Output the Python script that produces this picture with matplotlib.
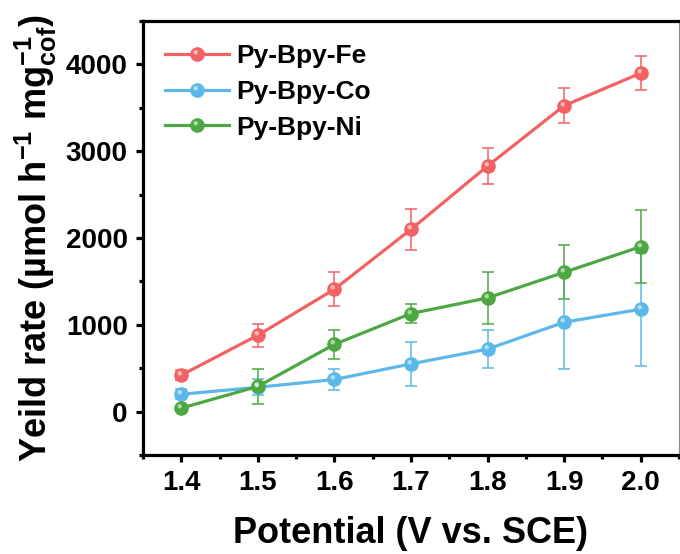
import matplotlib
matplotlib.use("Agg")
import matplotlib.pyplot as plt
from matplotlib.lines import Line2D
from matplotlib.markers import MarkerStyle
from matplotlib.transforms import Affine2D
from matplotlib.ticker import MultipleLocator

plt.rcParams['font.family'] = ['Liberation Sans', 'DejaVu Sans']
plt.rcParams['font.weight'] = 'bold'
plt.rcParams['mathtext.fontset'] = 'custom'
plt.rcParams['mathtext.rm'] = 'Liberation Sans:bold'
plt.rcParams['mathtext.it'] = 'Liberation Sans:bold'
plt.rcParams['mathtext.bf'] = 'Liberation Sans:bold'
plt.rcParams['mathtext.default'] = 'rm'

potential = [1.4, 1.5, 1.6, 1.7, 1.8, 1.9, 2.0]
fe = [420, 880, 1410, 2100, 2830, 3525, 3900]
fe_err = [60, 130, 195, 240, 210, 205, 200]
co = [200, 280, 370, 550, 720, 1030, 1180]
co_err = [60, 90, 120, 250, 220, 540, 650]
ni = [40, 290, 775, 1130, 1310, 1605, 1900]
ni_err = [30, 205, 170, 110, 300, 310, 420]
names = ['Py-Bpy-Fe', 'Py-Bpy-Co', 'Py-Bpy-Ni']
colors = ['#F26263', '#5CB8E8', '#4DA843']

fig = plt.figure(figsize=(6.8, 5.54), dpi=100)
ax = fig.add_axes([0.2103, 0.1787, 0.7882, 0.7833])

ms = 9.5
hl_marker = MarkerStyle('o', transform=Affine2D().translate(-0.4, 0.5))
hl_kw = dict(ls='none', marker=hl_marker, ms=3.2, mfc='white', mec='none', alpha=0.55)
handles = []
for y, e, c, n in zip([fe, co, ni], [fe_err, co_err, ni_err], colors, names):
    ax.errorbar(potential, y, yerr=e, color=c, lw=2.3, marker='o', ms=ms,
                mfc=c, mec=c, elinewidth=1.1, capsize=4.5, capthick=1.1, zorder=2)
    ax.plot(potential, y, zorder=3, **hl_kw)
    h1 = Line2D([], [], color=c, lw=2.3, marker='o', ms=ms, mfc=c, mec=c)
    h2 = Line2D([], [], **hl_kw)
    handles.append((h1, h2))

ax.set_xlim(1.35, 2.05)
ax.set_ylim(-500, 4500)
ax.set_xticks(potential)
ax.set_xticklabels([f'{p:.1f}' for p in potential])
ax.xaxis.set_minor_locator(MultipleLocator(0.05))
ax.yaxis.set_major_locator(MultipleLocator(1000))
ax.yaxis.set_minor_locator(MultipleLocator(500))

for s in ['left', 'top', 'bottom']:
    ax.spines[s].set_linewidth(2.3)
ax.spines['right'].set_linewidth(0.8)
ax.spines['right'].set_color('#888888')
ax.tick_params(axis='both', which='major', direction='out', length=5, width=2.3,
               labelsize=20, pad=6, top=False, right=False)
ax.tick_params(axis='both', which='minor', direction='out', length=3, width=2.3,
               top=False, right=False)

ax.set_xlabel('Potential (V vs. SCE)', fontsize=26, fontweight='bold', labelpad=14)
ax.set_ylabel('Yeild rate (µmol h$^{-1}$ mg$_{cof}^{-1}$)', fontsize=26,
              fontweight='bold', labelpad=5)

leg = ax.legend(handles, names, loc='upper left', bbox_to_anchor=(0.007, 0.99),
                frameon=False, fontsize=19, handlelength=2.4, handletextpad=0.3,
                labelspacing=0.45, borderaxespad=0.3)
for t in leg.get_texts():
    t.set_fontweight('bold')

fig.savefig('out.png', dpi=100)
